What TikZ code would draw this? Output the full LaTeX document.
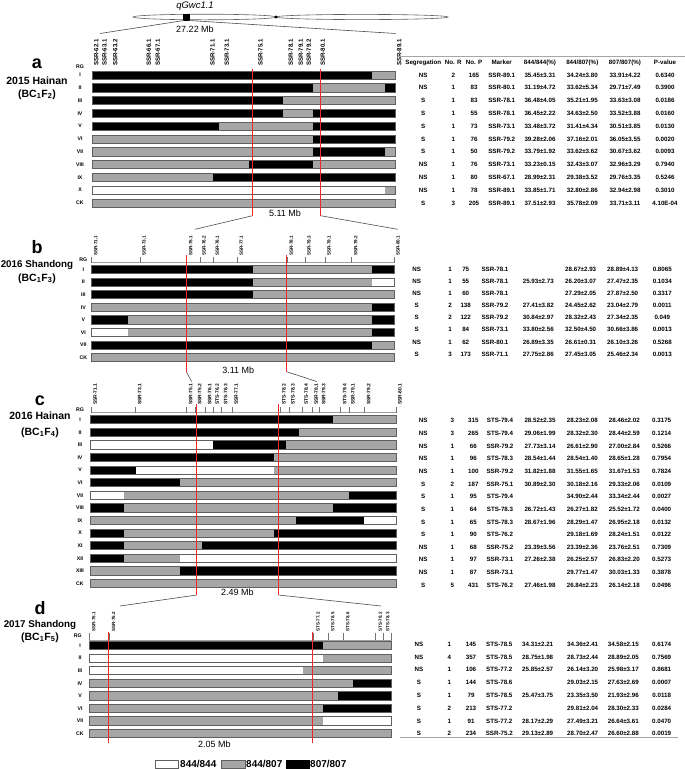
\documentclass[tikz,border=0pt]{standalone}
\usepackage{fontspec}
\setmainfont{Liberation Sans}
\definecolor{gfill}{RGB}{166,166,166}
\definecolor{bord}{RGB}{95,95,95}
\definecolor{redl}{RGB}{240,40,40}
\newcommand{\myfs}[1]{\fontsize{#1}{#1}\selectfont}
\newcommand{\gbar}[4]{%
  \xdef\gprev{#2}%
  \foreach \cc/\ee in {#4}{%
    \fill[\cc] (\gprev,#1-4.1) rectangle (\ee,#1+4.1);
    \xdef\gprev{\ee}}%
  \draw[bord, line width=0.7pt] (#2,#1-4.1) rectangle (#3,#1+4.1);}
\newcommand{\setcols}[8]{\def\cA{#1}\def\cB{#2}\def\cC{#3}\def\cD{#4}\def\cE{#5}\def\cF{#6}\def\cG{#7}\def\cH{#8}}
\newcommand{\tabrows}[2]{%
  \foreach \y/\s/\r/\p/\m/\u/\v/\w/\q [count=\i] in {#2}{%
    \node[tb] (#1\i s) at (\cA,\y) {\s};
    \node[tb] (#1\i r) at (\cB,\y) {\r};
    \node[tb] (#1\i p) at (\cC,\y) {\p};
    \node[tb] (#1\i m) at (\cD,\y) {\m};
    \node[tb] (#1\i u) at (\cE,\y) {\u};
    \node[tb] (#1\i v) at (\cF,\y) {\v};
    \node[tb] (#1\i w) at (\cG,\y) {\w};
    \node[tb] (#1\i q) at (\cH,\y) {\q};}}
\begin{document}
\begin{tikzpicture}[x=1pt,y=-1pt,
  tb/.style={inner sep=0pt, font=\myfs{6.2}\bfseries},
  rg/.style={inner sep=0pt, font=\myfs{5.2}\bfseries},
  mk/.style={inner sep=0pt, rotate=90, anchor=west},
  redline/.style={draw=redl, line width=1.1pt},
  conn/.style={draw=black!70, line width=0.6pt},
  axisl/.style={draw=gray!75, line width=1pt},
  tk/.style={draw=black!55, line width=0.5pt},
  mb/.style={inner sep=0pt, font=\myfs{9}},
  plet/.style={inner sep=0pt, font=\myfs{18}\bfseries},
  ptit/.style={inner sep=0pt, font=\myfs{10.5}\bfseries},
  lgt/.style={inner sep=0pt, anchor=west, font=\myfs{10}\bfseries},
  lgb/.style={draw=bord, line width=0.7pt, minimum width=23.3, minimum height=8.3, inner sep=0pt}]
\useasboundingbox (0,0) rectangle (685,769);

% ---------- chromosome ----------
\draw[bord, line width=0.6pt, fill=white] (204.5,17) ellipse [x radius=71.5, y radius=2.8];
\draw[bord, line width=0.6pt, fill=white] (362,17) ellipse [x radius=86, y radius=2.6];
\fill[black] (276,17) circle (1.6);
\node[fill=black, minimum width=7, minimum height=7, inner sep=0pt] (locus) at (186.5,17) {};
\node[inner sep=0pt, font=\myfs{9.5}\itshape] (qname) at (195,6) {qGwc1.1};
\node[mb] (mba) at (195,29.5) {27.22 Mb};
\coordinate (chrL) at (184,20.5);
\coordinate (chrR) at (189,20.5);
\coordinate (aTL) at (100,33.5);
\coordinate (aTR) at (395.7,33.5);
\draw[conn] (chrL) -- (aTL);
\draw[conn] (chrR) -- (aTR);

% ---------- panel a ----------
\node[plet] (la) at (37,64) {a};
\node[ptit] (ta) at (37,81) {2015 Hainan};
\node[ptit] (sa) at (37,94.5) {(BC\textsubscript{1}F\textsubscript{2})};
\draw[axisl] (92.3,76) -- (395.7,76);
\foreach \x/\t [count=\i] in {92.7/SSR-62.1,101/SSR-63.1,111.7/SSR-63.2,145.3/SSR-66.1,154.3/SSR-67.1,209/SSR-71.1,223.3/SSR-73.1,257/SSR-75.1,287.3/SSR-78.1,297.3/SSR-79.1,305.3/SSR-79.2,319.3/SSR-80.1,395.7/SSR-89.1}{
  \draw[tk] (\x,76) -- (\x,70.5);
  \node[mk, font=\myfs{6.1}\bfseries] (ma\i) at (\x+3.5,66) {\t};}
\node[rg] (rga) at (80,66.5) {RG};
\foreach \t/\y [count=\i] in {I/75,II/87.8,III/100.6,IV/113.4,V/126.2,VI/139,VII/151.8,VIII/164.6,IX/177.4,X/190.2,CK/203}{
  \node[rg] (ra\i) at (80,\y) {\t};}
\gbar{75}{92.3}{395.7}{black/372.3,gfill/395.7}
\gbar{87.8}{92.3}{395.7}{black/312.7,gfill/385,black/395.7}
\gbar{100.6}{92.3}{395.7}{black/282.7,gfill/395.7}
\gbar{113.4}{92.3}{395.7}{black/282.7,gfill/312.7,black/395.7}
\gbar{126.2}{92.3}{395.7}{black/218.7,gfill/312.7,black/395.7}
\gbar{139}{92.3}{395.7}{gfill/312.7,black/395.7}
\gbar{151.8}{92.3}{395.7}{gfill/312.7,black/385,gfill/395.7}
\gbar{164.6}{92.3}{395.7}{gfill/249.3,black/312.7,gfill/395.7}
\gbar{177.4}{92.3}{395.7}{gfill/212.7,black/395.7}
\gbar{190.2}{92.3}{395.7}{white/385,gfill/395.7}
\gbar{203}{92.3}{395.7}{gfill/395.7}
\coordinate (aR1t) at (252.6,69);
\coordinate (aR2t) at (320.5,69);
\coordinate (aR1) at (252.6,215.7);
\coordinate (aR2) at (320.5,215.7);
\node[mb] (mbb) at (285,213.3) {5.11 Mb};
% table a
\draw[draw=gray!70, line width=0.9pt] (398,56.7) -- (685,56.7);
\setcols{423.3}{453.3}{474}{501.7}{540}{582.3}{625}{665}
\node[tb] (h1) at (\cA,62.5) {Segregation};
\node[tb] (h2) at (\cB,62.5) {No. R};
\node[tb] (h3) at (\cC,62.5) {No. P};
\node[tb] (h4) at (\cD,62.5) {Marker};
\node[tb] (h5) at (\cE,62.5) {844/844(\%)};
\node[tb] (h6) at (\cF,62.5) {844/807(\%)};
\node[tb] (h7) at (\cG,62.5) {807/807(\%)};
\node[tb] (h8) at (\cH,62.5) {P-value};
\tabrows{A}{75/NS/2/165/SSR-89.1/35.45±3.31/34.24±3.80/33.91±4.22/0.6340,
87.8/NS/1/83/SSR-80.1/31.19±4.72/33.62±5.34/29.71±7.49/0.3900,
100.6/S/1/83/SSR-78.1/36.48±4.05/35.21±1.95/33.63±3.08/0.0186,
113.4/S/1/55/SSR-78.1/36.45±2.22/34.63±2.50/33.52±3.88/0.0160,
126.2/S/1/73/SSR-73.1/33.48±3.72/31.41±4.34/30.51±3.85/0.0130,
139/S/1/76/SSR-79.2/39.28±2.06/37.16±2.01/36.05±3.55/0.0020,
151.8/S/1/50/SSR-79.2/33.79±1.92/33.62±3.62/30.67±3.62/0.0093,
164.6/NS/1/76/SSR-73.1/33.23±0.15/32.43±3.07/32.96±3.29/0.7940,
177.4/NS/1/80/SSR-67.1/28.99±2.31/29.38±3.52/29.76±3.35/0.5246,
190.2/NS/1/78/SSR-89.1/33.85±1.71/32.80±2.86/32.94±2.98/0.3010,
203/S/3/205/SSR-89.1/37.51±2.93/35.78±2.09/33.71±3.11/4.10E-04}

% ---------- panel b ----------
\coordinate (bTL) at (195,229.3);
\coordinate (bTR) at (397.7,229.3);
\draw[conn] (aR1) -- (bTL);
\draw[conn] (aR2) -- (bTR);
\node[plet] (lb) at (37,247.5) {b};
\node[ptit, font=\myfs{9.8}\bfseries] (tb) at (37,264.5) {2016 Shandong};
\node[ptit] (sb) at (37,278.3) {(BC\textsubscript{1}F\textsubscript{3})};
\draw[axisl] (91.7,262.7) -- (394,262.7);
\foreach \x/\t [count=\i] in {91.7/SSR-71.1,140/SSR-73.1,186.7/SSR-75.1,200/SSR-76.2,213.3/SSR-76.1,237.3/SSR-77.1,287.3/SSR-78.1,305/SSR-79.3,325/SSR-79.1,351.7/SSR-79.2,394/SSR-80.1}{
  \draw[tk] (\x,262.7) -- (\x,257);
  \node[mk, font=\myfs{4.6}\bfseries] (mb\i) at (\x+4,256) {\t};}
\node[rg] (rgb) at (83.3,259.3) {RG};
\foreach \t/\y [count=\i] in {I/269.5,II/282.1,III/294.7,IV/307.3,V/319.9,VI/332.5,VII/345.1,CK/357.7}{
  \node[rg] (rb\i) at (83.3,\y) {\t};}
\gbar{269.5}{91.7}{394}{black/252.7,gfill/372.3,black/394}
\gbar{282.1}{91.7}{394}{black/252.7,gfill/372.3,white/394}
\gbar{294.7}{91.7}{394}{black/252.7,gfill/394}
\gbar{307.3}{91.7}{394}{gfill/372.3,black/394}
\gbar{319.9}{91.7}{394}{black/128.3,gfill/372.3,black/394}
\gbar{332.5}{91.7}{394}{white/128.3,gfill/372.3,black/394}
\gbar{345.1}{91.7}{394}{black/372.3,gfill/394}
\gbar{357.7}{91.7}{394}{gfill/394}
\coordinate (bR1t) at (186.3,255);
\coordinate (bR2t) at (286.6,255);
\coordinate (bR1) at (186.3,371.7);
\coordinate (bR2) at (286.6,371.7);
\node[mb] (mbc) at (238.3,370) {3.11 Mb};
\setcols{416.7}{450}{465.7}{495}{538.3}{580.7}{622.7}{662.3}
\tabrows{B}{269.3/NS/1/75/SSR-78.1/{}/28.67±2.93/28.89±4.13/0.8065,
281.4/NS/1/55/SSR-78.1/25.93±2.73/26.20±3.07/27.47±2.35/0.1034,
293.5/NS/1/60/SSR-78.1/{}/27.29±2.05/27.87±2.50/0.3317,
305.6/S/2/138/SSR-79.2/27.41±3.82/24.45±2.62/23.04±2.79/0.0011,
317.7/S/2/122/SSR-79.2/30.84±2.97/28.32±2.43/27.34±2.35/0.049,
329.8/S/1/84/SSR-73.1/33.80±2.56/32.50±4.50/30.66±3.86/0.0013,
341.9/NS/1/62/SSR-80.1/26.89±3.35/26.61±0.31/26.10±3.26/0.5268,
354/S/3/173/SSR-71.1/27.75±2.86/27.45±3.05/25.46±2.34/0.0013}

% ---------- panel c ----------
\coordinate (cTL) at (191.7,381.5);
\coordinate (cTR) at (316.7,381.5);
\draw[conn] (bR1) -- (cTL);
\draw[conn] (bR2) -- (cTR);
\node[plet] (lc) at (40,401) {c};
\node[ptit] (tc) at (40,415.7) {2016 Hainan};
\node[ptit] (sc) at (40,432.3) {(BC\textsubscript{1}F\textsubscript{4})};
\draw[axisl] (90.7,412.7) -- (396,412.7);
\foreach \x/\t [count=\i] in {91.3/SSR-71.1,135.7/SSR-73.1,186.7/SSR-75.1,195.7/SSR-75.2,205.7/SSR-76.1,213.3/STS-76.2,221.7/STS-76.3,232.3/SSR-77.1,280/STS-78.2,289/STS-78.3,302.3/STS-78.4,312.3/SSR-78.1,319.7/SSR-79.3,340.7/STS-79.4,349/SSR-79.1,364.7/SSR-79.2,396/SSR-80.1}{
  \draw[tk] (\x,412.7) -- (\x,407);
  \node[mk, font=\myfs{4.9}\bfseries] (mc\i) at (\x+4,405) {\t};}
\node[rg] (rgc) at (80,410) {RG};
\foreach \t/\y [count=\i] in {I/419.7,II/432.3,III/444.9,IV/457.5,V/470.1,VI/482.7,VII/495.3,VIII/507.9,IX/520.5,X/533.1,XI/545.7,XII/558.3,XIII/570.9,CK/583.5}{
  \node[rg] (rc\i) at (80,\y) {\t};}
\gbar{419.7}{90.7}{396}{black/332.7,gfill/396}
\gbar{432.3}{90.7}{396}{black/299.3,gfill/396}
\gbar{444.9}{90.7}{396}{white/212.7,black/286,gfill/396}
\gbar{457.5}{90.7}{396}{black/274,gfill/396}
\gbar{470.1}{90.7}{396}{black/135.7,white/274,gfill/396}
\gbar{482.7}{90.7}{396}{black/180,gfill/396}
\gbar{495.3}{90.7}{396}{white/124.3,gfill/349,black/396}
\gbar{507.9}{90.7}{396}{black/124.3,gfill/332.7,black/396}
\gbar{520.5}{90.7}{396}{gfill/296,black/364.3,white/396}
\gbar{533.1}{90.7}{396}{black/124.3,gfill/274,black/396}
\gbar{545.7}{90.7}{396}{black/124.3,gfill/202.3,black/396}
\gbar{558.3}{90.7}{396}{black/124.3,gfill/180,white/396}
\gbar{570.9}{90.7}{396}{gfill/180,black/396}
\gbar{583.5}{90.7}{396}{gfill/396}
\coordinate (cR1t) at (196.6,404);
\coordinate (cR2t) at (278.4,404);
\coordinate (cR1) at (196.6,595);
\coordinate (cR2) at (278.4,595);
\node[mb] (mbd) at (237.3,592.7) {2.49 Mb};
\setcols{423.3}{452.3}{473.3}{500}{540}{582.3}{624.3}{661.7}
\tabrows{C}{420.7/NS/3/315/STS-79.4/28.52±2.35/28.23±2.08/28.46±2.02/0.3175,
433.3/NS/3/265/STS-79.4/29.06±1.99/28.32±2.30/28.44±2.59/0.1214,
446/NS/1/66/SSR-79.2/27.73±3.14/26.61±2.90/27.00±2.84/0.5266,
458.6/NS/1/96/STS-78.3/28.54±1.44/28.54±1.40/28.65±1.28/0.7954,
471.3/NS/1/100/SSR-79.2/31.82±1.88/31.55±1.65/31.67±1.53/0.7824,
483.9/S/2/187/SSR-75.1/30.89±2.30/30.18±2.16/29.33±2.06/0.0109,
496.6/S/1/95/STS-79.4/{}/34.90±2.44/33.34±2.44/0.0027,
509.2/S/1/64/STS-78.3/26.72±1.43/26.27±1.82/25.52±1.72/0.0400,
521.9/S/1/65/STS-78.3/28.67±1.96/28.29±1.47/26.95±2.18/0.0132,
534.5/S/1/90/STS-76.2/{}/29.18±1.69/28.24±1.51/0.0122,
547.2/NS/1/68/SSR-75.2/23.39±3.56/23.39±2.36/23.76±2.51/0.7309,
559.8/NS/1/97/SSR-73.1/27.26±2.38/26.25±2.57/26.83±2.20/0.5273,
572.5/NS/1/87/SSR-73.1/{}/29.77±1.47/30.03±1.33/0.3878,
585/S/5/431/STS-76.2/27.46±1.98/26.84±2.23/26.14±2.18/0.0496}

% ---------- panel d ----------
\coordinate (dTL) at (120,606);
\coordinate (dTR) at (381,606);
\draw[conn] (cR1) -- (dTL);
\draw[conn] (cR2) -- (dTR);
\node[plet] (ld) at (40,608.5) {d};
\node[ptit, font=\myfs{9.8}\bfseries] (td) at (40,625) {2017 Shandong};
\node[ptit] (sd) at (40,637.5) {(BC\textsubscript{1}F\textsubscript{5})};
\draw[axisl] (89.3,640) -- (391.7,640);
\foreach \x/\t [count=\i] in {89.3/SSR-75.1,109/SSR-75.2,313.5/STS-77.2,328.3/STS-78.5,343.3/STS-78.6,375.7/STS-78.2,383.3/STS-78.3}{
  \draw[tk] (\x,640) -- (\x,632.5);
  \node[mk, font=\myfs{4.5}\bfseries] (md\i) at (\x+4.5,631.5) {\t};}
\draw[tk] (391.7,640) -- (391.7,632.5);
\node[rg] (rgd) at (77.7,635.7) {RG};
\foreach \t/\y [count=\i] in {I/645.7,II/658.2,III/670.7,IV/683.3,V/695.8,VI/708.3,VII/720.8,CK/733.3}{
  \node[rg] (rd\i) at (80,\y) {\t};}
\gbar{645.7}{89.3}{391.7}{black/323.3,gfill/391.7}
\gbar{658.2}{89.3}{391.7}{white/323.3,gfill/391.7}
\gbar{670.7}{89.3}{391.7}{white/302.7,gfill/391.7}
\gbar{683.3}{89.3}{391.7}{gfill/353.3,black/391.7}
\gbar{695.8}{89.3}{391.7}{gfill/338.3,black/391.7}
\gbar{708.3}{89.3}{391.7}{gfill/323.3,black/391.7}
\gbar{720.8}{89.3}{391.7}{gfill/323.3,white/391.7}
\gbar{733.3}{89.3}{391.7}{gfill/391.7}
\coordinate (dR1t) at (108.4,631.7);
\coordinate (dR2t) at (312.4,631.7);
\coordinate (dR1) at (108.4,743.3);
\coordinate (dR2) at (312.4,743.3);
\node[mb] (mbe) at (214.3,744.3) {2.05 Mb};
\setcols{419}{449.3}{471}{499.3}{537.7}{582.7}{623.3}{661.7}
\tabrows{D}{644.3/NS/1/145/STS-78.5/34.31±2.21/34.36±2.41/34.58±2.15/0.6174,
657/NS/4/357/STS-78.5/28.75±1.98/28.73±2.44/28.89±2.05/0.7569,
669.7/NS/1/106/STS-77.2/25.85±2.57/26.14±3.20/25.98±3.17/0.8681,
682.4/S/1/144/STS-78.6/{}/29.03±2.15/27.63±2.69/0.0007,
695.1/S/1/79/STS-78.5/25.47±3.75/23.35±3.50/21.93±2.96/0.0118,
708/S/2/213/STS-77.2/{}/29.81±2.04/28.30±2.33/0.0284,
720.9/S/1/91/STS-77.2/28.17±2.29/27.49±3.21/26.64±3.61/0.0470,
733.3/S/2/234/SSR-75.2/29.13±2.89/28.70±2.47/26.60±2.88/0.0019}
\draw[draw=gray!70, line width=0.9pt] (400,737.8) -- (677.7,737.8);

% ---------- red boundary lines (drawn last) ----------
\draw[redline] (aR1t) -- (aR1);
\draw[redline] (aR2t) -- (aR2);
\draw[redline] (bR1t) -- (bR1);
\draw[redline] (bR2t) -- (bR2);
\draw[redline] (cR1t) -- (cR1);
\draw[redline] (cR2t) -- (cR2);
\draw[redline] (dR1t) -- (dR1);
\draw[redline] (dR2t) -- (dR2);

% ---------- legend ----------
\node[lgb, fill=white] (lg1) at (166.7,764.2) {};
\node[lgt] (lt1) at (180,764.4) {844/844};
\node[lgb, fill=gfill] (lg2) at (233.3,764.2) {};
\node[lgt] (lt2) at (246,764.4) {844/807};
\node[lgb, fill=black, draw=black] (lg3) at (297.7,764.2) {};
\node[lgt] (lt3) at (310,764.4) {807/807};
\end{tikzpicture}
\end{document}
